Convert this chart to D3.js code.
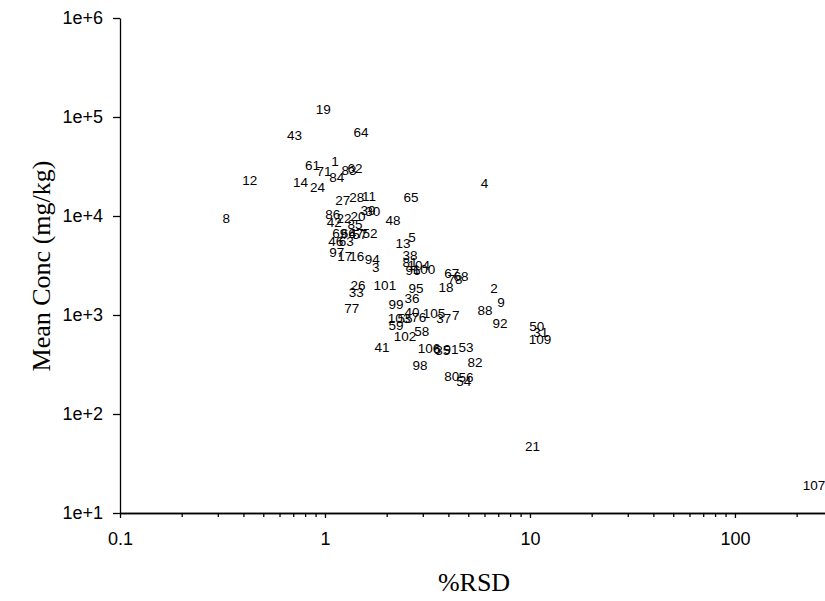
<!DOCTYPE html>
<html>
<head>
<meta charset="utf-8">
<style>
body { margin: 0; background: #fff; }
.axis text { font-family: "Liberation Sans", Arial, sans-serif; font-size: 18px; fill: #000; }
.axis path, .axis line { stroke: #000; stroke-width: 1.3; }
.pt { font-family: "Liberation Sans", Arial, sans-serif; font-size: 13.5px; fill: #000; }
.title { font-family: "Liberation Serif", "Times New Roman", serif; font-size: 26px; fill: #000; }
</style>
</head>
<body>
<svg width="825" height="601"></svg>
<script src="https://cdn.jsdelivr.net/npm/d3@7"></script>
<script>

// sample numbers, %RSD and mean concentration (mg/kg)
var labels = ["19","43","64","61","1","71","84","83","62","12",
  "14","24","4","27","28","11","65","8","39","30",
  "48","86","42","22","20","85","52","69","66","47",
  "57","46","63","13","5","97","17","16","94","3",
  "38","81","104","96","100","67","78","68","26","33",
  "101","95","18","2","9","36","99","77","88","103",
  "59","40","55","76","105","37","7","92","50","31",
  "109","58","102","41","106","6","35","91","53","82",
  "98","80","56","54","21","107"];

var rsd = [0.98,0.71,1.50,0.87,1.12,0.99,1.14,1.31,1.40,0.43,
  0.76,0.92,6.0,1.22,1.43,1.64,2.63,0.33,1.62,1.71,
  2.15,1.09,1.11,1.24,1.45,1.40,1.66,1.18,1.30,1.42,
  1.48,1.13,1.27,2.40,2.66,1.14,1.25,1.43,1.70,1.77,
  2.60,2.60,2.87,2.69,3.04,4.16,4.31,4.61,1.45,1.42,
  1.96,2.78,3.89,6.67,7.22,2.66,2.22,1.35,6.03,2.30,
  2.22,2.66,2.46,2.87,3.40,3.80,4.35,7.14,10.8,11.3,
  11.2,2.97,2.46,1.90,3.22,3.52,3.76,4.12,4.87,5.39,
  2.91,4.16,4.87,4.76,10.3,243];

var conc = [119000,65000,69700,32400,35600,28200,24600,28900,30300,22900,
  21900,19500,21400,14400,15400,15800,15400,9480,11400,11100,
  9060,10400,8650,9480,9930,8260,6700,6700,6700,6700,
  6550,5560,5560,5310,6110,4310,3930,3930,3660,3040,
  4020,3420,3190,2840,2900,2650,2300,2470,2000,1700,
  2000,1870,1910,1870,1350,1480,1290,1170,1120,931,
  792,1070,931,953,1045,920,990,829,773,673,
  571,689,613,474,463,453,443,453,474,335,
  313,242,237,216,46.7,18.9];

var yTicks = [1e1, 1e2, 1e3, 1e4, 1e5, 1e6];
var yTickLabels = ["1e+1","1e+2","1e+3","1e+4","1e+5","1e+6"];
var xTicks = [0.1, 1, 10, 100];
var xTickLabels = ["0.1","1","10","100"];

var svg = d3.select("svg"),
    margin = {top: 18, right: 0, bottom: 88, left: 120},
    width = +svg.attr("width") - margin.left - margin.right,
    height = +svg.attr("height") - margin.top - margin.bottom,
    g = svg.append("g").attr("transform", "translate(" + margin.left + "," + margin.top + ")");

var x = d3.scaleLog()
    .domain([0.1, 275])
    .range([0, width]);

var y = d3.scaleLog()
    .domain([1e1, 1e6])
    .range([height, 0]);

// minor ticks at 2..9 of each decade
var xMinor = [];
xTicks.forEach(function(t) {
  for (var k = 2; k < 10; ++k) if (t * k <= 275) xMinor.push(t * k);
});

g.append("g")
    .attr("class", "axis")
    .attr("transform", "translate(0," + height + ")")
    .call(d3.axisBottom(x).tickValues(xMinor).tickSize(4).tickSizeOuter(0).tickFormat(""));

g.append("g")
    .attr("class", "axis")
    .attr("transform", "translate(0," + height + ")")
    .call(d3.axisBottom(x).tickValues(xTicks).tickSize(5).tickSizeOuter(0).tickPadding(14)
      .tickFormat(function(d, i) { return xTickLabels[i]; }));

g.append("g")
    .attr("class", "axis")
    .call(d3.axisLeft(y).tickValues(yTicks).tickSize(7).tickSizeOuter(0).tickPadding(10)
      .tickFormat(function(d, i) { return yTickLabels[i]; }));

g.selectAll(".axis .domain").attr("stroke-width", 1.5);

// sample numbers as the markers
g.append("g")
  .selectAll("text")
  .data(labels)
  .enter().append("text")
    .attr("class", "pt")
    .attr("x", function(d, i) { return x(rsd[i]); })
    .attr("y", function(d, i) { return y(conc[i]); })
    .attr("dy", "0.35em")
    .attr("text-anchor", "middle")
    .text(function(d) { return d; });

svg.append("text")
    .attr("class", "title")
    .attr("text-anchor", "middle")
    .attr("transform", "translate(50,266) rotate(-90)")
    .text("Mean Conc (mg/kg)");

svg.append("text")
    .attr("class", "title")
    .attr("text-anchor", "middle")
    .attr("x", 474)
    .attr("y", 591)
    .text("%RSD");

</script>
</body>
</html>
